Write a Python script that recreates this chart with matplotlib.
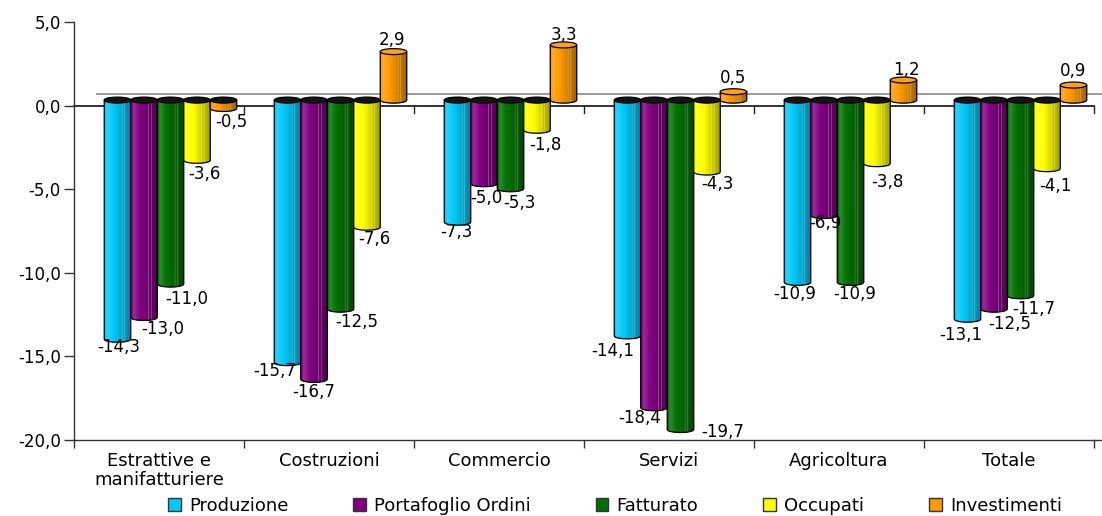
import numpy as np
import matplotlib
matplotlib.use("Agg")
import matplotlib.pyplot as plt
from matplotlib.patches import Ellipse, PathPatch, Patch
from matplotlib.path import Path
from matplotlib.collections import PolyCollection
from matplotlib.transforms import ScaledTranslation
from matplotlib.colors import to_rgb

# ---- data -------------------------------------------------------------
categories = ["Estrattive e\nmanifatturiere", "Costruzioni", "Commercio",
              "Servizi", "Agricoltura", "Totale"]
series_names = ["Produzione", "Portafoglio Ordini", "Fatturato",
                "Occupati", "Investimenti"]
produzione = [-14.3, -15.7, -7.3, -14.1, -10.9, -13.1]
portafoglio_ordini = [-13.0, -16.7, -5.0, -18.4, -6.9, -12.5]
fatturato = [-11.0, -12.5, -5.3, -19.7, -10.9, -11.7]
occupati = [-3.6, -7.6, -1.8, -4.3, -3.8, -4.1]
investimenti = [-0.5, 2.9, 3.3, 0.5, 1.2, 0.9]
y_ticks = [5.0, 0.0, -5.0, -10.0, -15.0, -20.0]

series = [produzione, portafoglio_ordini, fatturato, occupati, investimenti]
colors = ["#00C8F8", "#800080", "#007000", "#FFFF00", "#FF9900"]

# label nudges in pixels (horizontal shift, distance from the bar end)
label_dx = [[1, -13, -1, -15, -3, -7],
            [19, 0, 2, -14, 1, 16],
            [16, 16, 9, 42, 4, 13],
            [7, 7, 8, 10, 10, 8],
            [8, -1, 0, 0, 3, 0]]
label_dy = [[8, 8, 10, 15, 12, 16],
            [12, 13, 14, 10, 8, 15],
            [15, 13, 14, 3, 12, 13],
            [14, 12, 15, 12, 18, 17],
            [14, 12, 10, 14, 10, 14]]


def fmt(v):
    return f"{v:.1f}".replace(".", ",")


# ---- figure / axes ------------------------------------------------------
W, H, DPI = 1102, 516, 100
fig = plt.figure(figsize=(W / DPI, H / DPI), dpi=DPI)
ax = fig.add_axes([74 / W, (H - 440) / H, 1020 / W, 418 / H])
ymin, ymax = -20, 5
ax.set_xlim(-0.5, len(categories) - 0.5)
ax.set_ylim(ymin, ymax)

px_per_y = 418 / (ymax - ymin)
px_per_x = 1020 / len(categories)

# 3D depth: bars sit half-way into the depth, the back wall line at full depth
bar_shift = ScaledTranslation(11.5 / DPI, 5.5 / DPI, fig.dpi_scale_trans)
wall_shift = ScaledTranslation(23 / DPI, 12 / DPI, fig.dpi_scale_trans)
t_bar = ax.transData + bar_shift
t_wall = ax.transData + wall_shift

n_series = len(series)
bar_w = 26.5 / px_per_x
ry = 3.0 / px_per_y          # half height of the cylinder ellipses
n_strip = 40


def shade(rgb, t):
    f = np.interp(t, [0.0, 0.12, 0.45, 1.0], [0.93, 1.08, 0.97, 0.63])
    rgb = np.asarray(rgb)
    if f > 1:
        c = rgb + (1 - rgb) * (f - 1) * 2.2
    else:
        c = rgb * f
    if abs(t - 0.68) < 0.014 or abs(t - 0.78) < 0.012:
        c = c + (1 - c) * 0.35
    return np.clip(c, 0, 1)


def cylinder(xc, v, color, z):
    rgb = to_rgb(color)
    x0, x1 = xc - bar_w / 2, xc + bar_w / 2
    xs = np.linspace(x0, x1, n_strip + 1)
    ell = ry * np.sqrt(np.clip(1 - ((xs - xc) / (bar_w / 2)) ** 2, 0, 1))
    top, base = (0.0, v) if v < 0 else (v, 0.0)
    polys, cols = [], []
    for i in range(n_strip):
        xa, xb = xs[i], xs[i + 1]
        polys.append([(xa, top), (xb, top), (xb, base - ell[i + 1]),
                      (xa, base - ell[i])])
        cols.append(shade(rgb, (i + 0.5) / n_strip))
    pc = PolyCollection(polys, facecolors=cols, edgecolors=cols,
                        linewidths=0.4, transform=t_bar, zorder=z)
    ax.add_collection(pc)
    # outline of the body
    verts = [(x0, top), (x0, base)]
    verts += list(zip(xs, base - ell))
    verts += [(x1, base), (x1, top)]
    ax.add_patch(PathPatch(Path(verts), fill=False, edgecolor="black",
                           lw=0.9, transform=t_bar, zorder=z + 0.1))
    # top face
    if v < 0:
        face = "#141414"
    else:
        face = tuple(np.clip(np.array(rgb) * 0.92 + 0.08, 0, 1))
    ax.add_patch(Ellipse((xc, top), bar_w, 2 * ry, facecolor=face,
                         edgecolor="black", lw=0.9, transform=t_bar,
                         zorder=z + 0.2))


# zero line: front axis and back wall line
ax.plot([-0.5, len(categories) - 0.5], [0, 0], color="#222222", lw=1.3,
        zorder=1, clip_on=False)
ax.plot([-0.5, len(categories) - 0.5], [0, 0], color="#8a8a8a", lw=1.2,
        transform=t_wall, zorder=0.5, clip_on=False)
for k in range(1, len(categories) + 1):
    xb = k - 0.5
    ax.plot([xb, xb], [0, -7 / px_per_y], color="#222222", lw=1.0,
            zorder=1, clip_on=False)

# floor edge continues slightly past the last category
ax.plot([len(categories) - 0.5, len(categories) - 0.5 + 10 / px_per_x],
        [ymin, ymin], color="#333333", lw=1.0, clip_on=False)

# cylinders
z = 3
for ci in range(len(categories)):
    for si in range(n_series):
        xc = ci + (si - (n_series - 1) / 2) * bar_w
        cylinder(xc, series[si][ci], colors[si], z)
        z += 1

# value labels
for si in range(n_series):
    for ci in range(len(categories)):
        v = series[si][ci]
        xc = ci + (si - (n_series - 1) / 2) * bar_w
        sgn = -1 if v < 0 else 1
        ax.annotate(fmt(v), xy=(xc, v), xycoords=t_bar,
                    xytext=(label_dx[si][ci], sgn * label_dy[si][ci]),
                    textcoords="offset pixels", ha="center", va="center",
                    fontsize=12, color="black", zorder=200,
                    annotation_clip=False)

# axes styling
for s in ("top", "right"):
    ax.spines[s].set_visible(False)
for s in ("left", "bottom"):
    ax.spines[s].set_color("#333333")
    ax.spines[s].set_linewidth(1.0)

ax.set_yticks(y_ticks)
ax.set_yticklabels([fmt(v) for v in y_ticks], fontsize=12)
ax.tick_params(axis="y", direction="out", length=7.5, width=1.0,
               color="#333333", pad=2)

ax.set_xticks(np.arange(len(categories) + 1) - 0.5)
ax.set_xticklabels([])
ax.tick_params(axis="x", which="major", direction="out", length=5.5,
               width=1.0, color="#333333")
ax.set_xticks(np.arange(len(categories)), minor=True)
ax.set_xticklabels(categories, minor=True, fontsize=13, linespacing=1.05,
                   va="top")
ax.tick_params(axis="x", which="minor", length=0, pad=9)

# legend
handles = [Patch(facecolor=c, edgecolor="#333333", lw=1.0) for c in colors]
fig.legend(handles, series_names, ncol=5, loc="lower center",
           bbox_to_anchor=(0.558, -0.019), frameon=False, fontsize=13,
           handlelength=0.7, handleheight=0.7, handletextpad=0.45,
           columnspacing=3.6, borderaxespad=0.2)

fig.savefig("out.png", dpi=DPI)
